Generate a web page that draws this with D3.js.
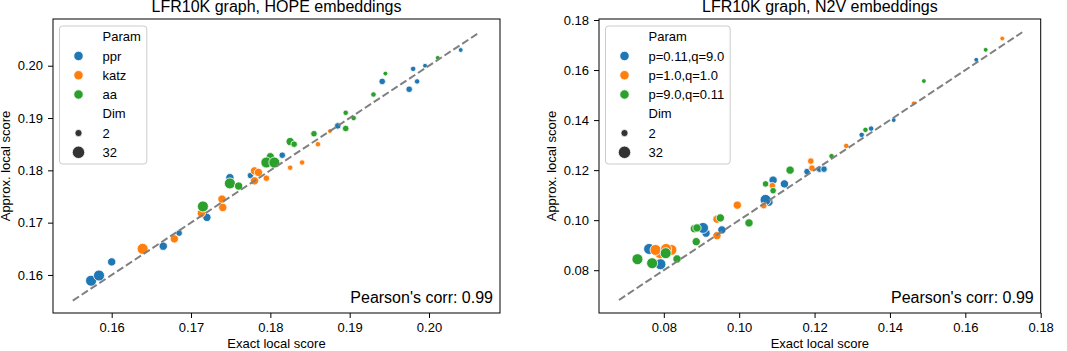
<!DOCTYPE html>
<html>
<head>
<meta charset="utf-8">
<script src="https://cdn.jsdelivr.net/npm/d3@7"></script>
<style>
  body { margin: 0; background: #fff; }
  svg text { font-family: "Liberation Sans", Arial, sans-serif; fill: #000; }
</style>
</head>
<body>
<div id="chart"></div>
<script>
// ---- data: [exact, approx, dim] ----
const hopeParams = ["ppr", "katz", "aa"];
const hopePpr = [
  [0.1574, 0.1589, 32], [0.1584, 0.1599, 32], [0.1600, 0.1625, 16], [0.1665, 0.1655, 16],
  [0.1685, 0.1680, 8], [0.1720, 0.1710, 16], [0.1749, 0.1786, 16], [0.1775, 0.1790, 8],
  [0.1815, 0.1829, 8], [0.1885, 0.1885, 8], [0.1941, 0.1970, 8], [0.1975, 0.1955, 8],
  [0.1980, 0.1994, 4], [0.1985, 0.1970, 4], [0.1995, 0.2000, 2], [0.2040, 0.2030, 2]
];
const hopeKatz = [
  [0.1639, 0.1650, 32], [0.1679, 0.1669, 16], [0.1713, 0.1718, 16], [0.1739, 0.1745, 16],
  [0.1740, 0.1729, 16], [0.1780, 0.1799, 16], [0.1780, 0.1780, 16], [0.1785, 0.1796, 16],
  [0.1795, 0.1785, 8], [0.1825, 0.1805, 4], [0.1840, 0.1815, 4], [0.1860, 0.1850, 4],
  [0.1875, 0.1875, 2]
];
const hopeAa = [
  [0.1715, 0.1731, 32], [0.1749, 0.1775, 32], [0.1760, 0.1770, 16], [0.1800, 0.1826, 16],
  [0.1795, 0.1815, 32], [0.1805, 0.1815, 32], [0.1825, 0.1855, 16], [0.1830, 0.1850, 8],
  [0.1855, 0.1870, 8], [0.1895, 0.1880, 8], [0.1895, 0.1910, 4], [0.1905, 0.1900, 4],
  [0.1930, 0.1945, 4], [0.1945, 0.1985, 2], [0.2011, 0.2015, 2]
];

const n2vParams = ["p=0.11,q=9.0", "p=1.0,q=1.0", "p=9.0,q=0.11"];
const n2vLow = [
  [0.0761, 0.0885, 32], [0.0791, 0.0824, 32], [0.0912, 0.0948, 16], [0.0904, 0.0969, 32],
  [0.0954, 0.0961, 16], [0.1079, 0.1072, 16], [0.1070, 0.1081, 32], [0.1090, 0.1160, 16],
  [0.1120, 0.1145, 16], [0.1180, 0.1194, 8], [0.1213, 0.1204, 8], [0.1225, 0.1204, 8],
  [0.1325, 0.1341, 4], [0.1350, 0.1366, 4], [0.1410, 0.1400, 2], [0.1629, 0.1641, 2]
];
const n2vMid = [
  [0.0790, 0.0868, 32], [0.0778, 0.0881, 32], [0.0820, 0.0881, 32], [0.0806, 0.0885, 32],
  [0.0941, 0.1004, 16], [0.0941, 0.0938, 16], [0.0995, 0.1060, 16], [0.1065, 0.1058, 8],
  [0.1088, 0.1138, 8], [0.1193, 0.1208, 8], [0.1190, 0.1236, 8], [0.1284, 0.1297, 4],
  [0.1463, 0.1467, 2], [0.1698, 0.1726, 2]
];
const n2vHigh = [
  [0.0730, 0.0844, 32], [0.0769, 0.0828, 32], [0.0805, 0.0868, 32], [0.0835, 0.0845, 16],
  [0.0886, 0.0914, 16], [0.0881, 0.0966, 16], [0.0888, 0.0969, 16], [0.0950, 0.1009, 16],
  [0.1026, 0.0989, 16], [0.1070, 0.1145, 8], [0.1090, 0.1118, 8], [0.1135, 0.1200, 16],
  [0.1245, 0.1256, 4], [0.1335, 0.1361, 4], [0.1490, 0.1556, 2], [0.1654, 0.1681, 2]
];

const hopeTicks = [0.16, 0.17, 0.18, 0.19, 0.20];
const n2vTicks = [0.08, 0.10, 0.12, 0.14, 0.16, 0.18];
const hopeDiag = [0.1551, 0.2064];
const n2vDiag = [0.0681, 0.1751];
const dimLegend = [2, 32];
const corrText = "Pearson's corr: 0.99";

const palette = ["#1f77b4", "#ff7f0e", "#2ca02c"];

const svg = d3.select("#chart").append("svg")
  .attr("width", 1067)
  .attr("height", 351);

// marker area grows linearly with the dimension (seaborn style size mapping)
const area = d3.scaleLinear().domain([2, 32]).range([2.4 * 2.4, 5.5 * 5.5]);
const areaR = d => Math.sqrt(area(d));
const legendR = d3.scaleLinear().domain([2, 32]).range([3.6, 6.2]);

function drawPanel(cfg) {
  const left = cfg.left, right = cfg.right, top = 19, bottom = 313;

  const x = d3.scaleLinear().domain(cfg.xDomain).range([left, right]);
  const y = d3.scaleLinear().domain(cfg.yDomain).range([bottom, top]);

  const g = svg.append("g");

  // title
  g.append("text")
    .attr("x", (left + right) / 2)
    .attr("y", 12)
    .attr("text-anchor", "middle")
    .style("font-size", "16px")
    .text(cfg.title);

  // axes
  g.append("g")
    .attr("transform", `translate(0,${bottom})`)
    .call(d3.axisBottom(x).tickValues(cfg.ticks).tickFormat(d3.format(".2f")).tickSize(5).tickPadding(5))
    .call(a => a.select(".domain").remove())
    .call(a => a.selectAll("text").style("font-size", "13px").attr("fill", "#000"))
    .call(a => a.selectAll("line").attr("stroke", "#000").attr("stroke-width", 1));

  g.append("g")
    .attr("transform", `translate(${left},0)`)
    .call(d3.axisLeft(y).tickValues(cfg.ticks).tickFormat(d3.format(".2f")).tickSize(5).tickPadding(5))
    .call(a => a.select(".domain").remove())
    .call(a => a.selectAll("text").style("font-size", "13px").attr("fill", "#000"))
    .call(a => a.selectAll("line").attr("stroke", "#000").attr("stroke-width", 1));

  // axis labels
  g.append("text")
    .attr("x", (left + right) / 2)
    .attr("y", 347.5)
    .attr("text-anchor", "middle")
    .style("font-size", "13px")
    .text("Exact local score");

  g.append("text")
    .attr("transform", `translate(${cfg.yLabelX},${(top + bottom) / 2}) rotate(-90)`)
    .attr("text-anchor", "middle")
    .style("font-size", "13px")
    .text("Approx. local score");

  // points
  cfg.series.forEach((s, i) => {
    g.append("g").selectAll("circle")
      .data(s)
      .join("circle")
      .attr("cx", d => x(d[0]))
      .attr("cy", d => y(d[1]))
      .attr("r", d => areaR(d[2]))
      .attr("fill", palette[i])
      .attr("stroke", "#fff")
      .attr("stroke-width", 0.8);
  });

  // y = x reference line
  g.append("line")
    .attr("x1", x(cfg.diag[0])).attr("y1", y(cfg.diag[0]))
    .attr("x2", x(cfg.diag[1])).attr("y2", y(cfg.diag[1]))
    .attr("stroke", "#808080")
    .attr("stroke-width", 2)
    .attr("stroke-dasharray", "7.4 3.2");

  // frame
  g.append("rect")
    .attr("x", left).attr("y", top)
    .attr("width", right - left).attr("height", bottom - top)
    .attr("fill", "none")
    .attr("stroke", "#000")
    .attr("stroke-width", 1);

  // correlation note
  g.append("text")
    .attr("x", right - 7)
    .attr("y", 303)
    .attr("text-anchor", "end")
    .style("font-size", "16px")
    .text(corrText);

  // legend
  const lg = g.append("g");
  const box = lg.append("rect");
  const rowY = i => 36.7 + i * 19.27;
  const rows = [];
  rows.push({ label: "Param" });
  cfg.params.forEach((p, i) => rows.push({ label: p, color: palette[i], r: 4.7 }));
  rows.push({ label: "Dim" });
  dimLegend.forEach(d => rows.push({ label: String(d), color: "#333333", r: legendR(d) }));

  let maxW = 0;
  rows.forEach((row, i) => {
    if (row.color) {
      lg.append("circle")
        .attr("cx", left + 25.5)
        .attr("cy", rowY(i))
        .attr("r", row.r)
        .attr("fill", row.color)
        .attr("stroke", "#fff")
        .attr("stroke-width", 0.8);
    }
    const t = lg.append("text")
      .attr("x", left + 49.5)
      .attr("y", rowY(i) + 4.6)
      .style("font-size", "13px")
      .text(row.label);
    maxW = Math.max(maxW, t.node().getComputedTextLength());
  });

  box.attr("x", left + 6.5)
    .attr("y", 26)
    .attr("width", 43 + maxW + 6)
    .attr("height", 138)
    .attr("rx", 3)
    .attr("fill", "#fff")
    .attr("fill-opacity", 0.8)
    .attr("stroke", "#cccccc")
    .attr("stroke-width", 1);
}

drawPanel({
  title: "LFR10K graph, HOPE embeddings",
  left: 53, right: 500,
  xDomain: [0.1526, 0.20895],
  yDomain: [0.15273, 0.20893],
  ticks: hopeTicks,
  diag: hopeDiag,
  yLabelX: 10,
  params: hopeParams,
  series: [hopePpr, hopeKatz, hopeAa]
});

drawPanel({
  title: "LFR10K graph, N2V embeddings",
  left: 599, right: 1040.7,
  xDomain: [0.0628, 0.18],
  yDomain: [0.0629, 0.1804],
  ticks: n2vTicks,
  diag: n2vDiag,
  yLabelX: 556,
  params: n2vParams,
  series: [n2vLow, n2vMid, n2vHigh]
});
</script>
</body>
</html>
